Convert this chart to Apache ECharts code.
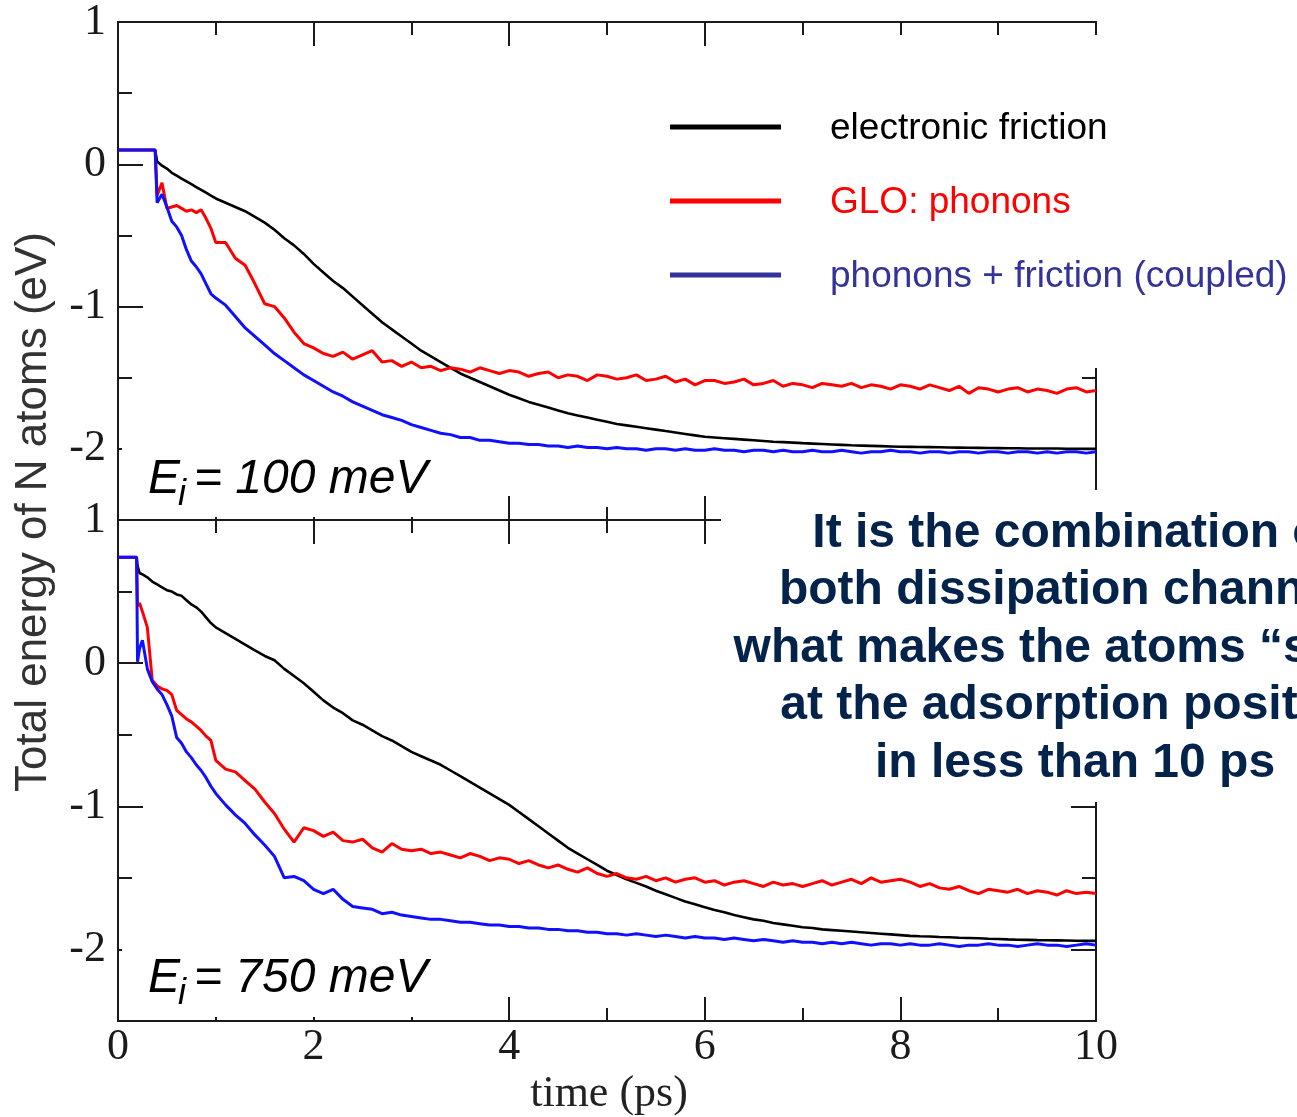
<!DOCTYPE html>
<html><head><meta charset="utf-8">
<script src="https://cdn.jsdelivr.net/npm/echarts@6/dist/echarts.min.js"></script>
<style>html,body{margin:0;padding:0;background:#fff;}#c{width:1297px;height:1117px;}</style>
</head><body><div id="c"></div>
<script>
// ---------- DATA ----------
const seriesNames = ['electronic friction', 'GLO: phonons', 'phonons + friction (coupled)'];
const panelEnergies = ['100 meV', '750 meV'];
const xTicks = [0, 2, 4, 6, 8, 10];
const yTicks = [-2, -1, 0, 1];
const yMinorTicks = [-1.5, -0.5, 0.5];
const noteLines = ['It is the combination of', 'both dissipation channels', 'what makes the atoms \u201cstick\u201d', 'at the adsorption position', 'in less than 10 ps'];

// Top panel (Ei = 100 meV)
const timeTop = [0,0.38,0.40,0.45,0.50,0.55,0.60,0.65,0.70,0.75,0.80,0.85,0.90,0.95,1.0,
1.1,1.2,1.3,1.4,1.5,1.6,1.7,1.8,1.9,2.0,
2.1,2.2,2.3,2.4,2.5,2.6,2.7,2.8,2.9,3.0,
3.1,3.2,3.3,3.4,3.5,3.6,3.7,3.8,3.9,4.0,
4.1,4.2,4.3,4.4,4.5,4.6,4.7,4.8,4.9,5.0,
5.1,5.2,5.3,5.4,5.5,5.6,5.7,5.8,5.9,6.0,
6.1,6.2,6.3,6.4,6.5,6.6,6.7,6.8,6.9,7.0,
7.1,7.2,7.3,7.4,7.5,7.6,7.7,7.8,7.9,8.0,
8.1,8.2,8.3,8.4,8.5,8.6,8.7,8.8,8.9,9.0,
9.1,9.2,9.3,9.4,9.5,9.6,9.7,9.8,9.9,10.0];
const frictionTop = [0.1,0.1,0.02,-0.01,-0.03,-0.06,-0.08,-0.10,-0.12,-0.14,-0.16,-0.18,-0.20,-0.22,-0.24,
-0.27,-0.30,-0.33,-0.37,-0.41,-0.46,-0.52,-0.57,-0.63,-0.70,
-0.76,-0.82,-0.87,-0.93,-0.99,-1.05,-1.11,-1.16,-1.21,-1.26,
-1.31,-1.35,-1.39,-1.43,-1.47,-1.50,-1.53,-1.56,-1.59,-1.62,
-1.645,-1.67,-1.69,-1.71,-1.73,-1.75,-1.765,-1.78,-1.795,-1.81,
-1.825,-1.835,-1.845,-1.855,-1.865,-1.875,-1.885,-1.895,-1.905,-1.915,
-1.92,-1.925,-1.93,-1.935,-1.94,-1.945,-1.95,-1.953,-1.956,-1.96,
-1.963,-1.966,-1.969,-1.972,-1.975,-1.977,-1.979,-1.981,-1.983,-1.985,
-1.986,-1.987,-1.988,-1.989,-1.99,-1.991,-1.992,-1.993,-1.994,-1.995,
-1.996,-1.996,-1.997,-1.997,-1.998,-1.998,-1.999,-1.999,-2.0,-2.0];
const phononsTop = [0.1,0.1,-0.22,-0.13,-0.31,-0.30,-0.29,-0.31,-0.33,-0.32,-0.34,-0.32,-0.38,-0.45,-0.55,
-0.55,-0.66,-0.71,-0.84,-0.98,-1.00,-1.08,-1.18,-1.26,-1.29,
-1.33,-1.35,-1.32,-1.37,-1.34,-1.31,-1.39,-1.38,-1.42,-1.39,
-1.43,-1.42,-1.45,-1.43,-1.44,-1.46,-1.43,-1.45,-1.47,-1.45,
-1.46,-1.49,-1.47,-1.46,-1.50,-1.48,-1.49,-1.52,-1.48,-1.49,
-1.51,-1.50,-1.48,-1.52,-1.51,-1.49,-1.53,-1.51,-1.55,-1.52,
-1.52,-1.54,-1.53,-1.51,-1.55,-1.54,-1.52,-1.56,-1.54,-1.55,
-1.57,-1.54,-1.55,-1.56,-1.54,-1.57,-1.55,-1.56,-1.58,-1.55,
-1.56,-1.58,-1.55,-1.57,-1.59,-1.56,-1.61,-1.57,-1.58,-1.60,
-1.58,-1.57,-1.60,-1.58,-1.59,-1.61,-1.58,-1.57,-1.60,-1.59];
const coupledTop = [0.1,0.1,-0.27,-0.21,-0.30,-0.40,-0.44,-0.50,-0.60,-0.68,-0.72,-0.77,-0.84,-0.91,-0.94,
-0.99,-1.07,-1.15,-1.21,-1.27,-1.33,-1.38,-1.43,-1.48,-1.52,
-1.56,-1.60,-1.63,-1.67,-1.70,-1.73,-1.76,-1.78,-1.80,-1.83,
-1.85,-1.87,-1.89,-1.90,-1.92,-1.92,-1.94,-1.94,-1.95,-1.96,
-1.96,-1.97,-1.97,-1.98,-1.98,-1.99,-1.98,-1.99,-1.99,-2.00,
-1.99,-2.00,-2.00,-2.01,-2.00,-2.00,-2.01,-2.00,-2.01,-2.01,
-2.00,-2.01,-2.01,-2.02,-2.01,-2.01,-2.02,-2.01,-2.02,-2.02,
-2.01,-2.02,-2.02,-2.01,-2.02,-2.03,-2.02,-2.02,-2.01,-2.02,
-2.02,-2.03,-2.02,-2.02,-2.03,-2.02,-2.02,-2.03,-2.02,-2.02,
-2.03,-2.02,-2.02,-2.03,-2.02,-2.03,-2.02,-2.02,-2.03,-2.02];

// Bottom panel (Ei = 750 meV)
const timeBottom = [0,0.19,0.20,0.22,0.25,0.30,0.35,0.40,0.45,0.50,0.55,0.60,0.65,0.70,0.75,0.80,0.85,0.90,0.95,1.0,
1.1,1.2,1.3,1.4,1.5,1.6,1.7,1.8,1.9,2.0,
2.1,2.2,2.3,2.4,2.5,2.6,2.7,2.8,2.9,3.0,
3.1,3.2,3.3,3.4,3.5,3.6,3.7,3.8,3.9,4.0,
4.1,4.2,4.3,4.4,4.5,4.6,4.7,4.8,4.9,5.0,
5.1,5.2,5.3,5.4,5.5,5.6,5.7,5.8,5.9,6.0,
6.1,6.2,6.3,6.4,6.5,6.6,6.7,6.8,6.9,7.0,
7.1,7.2,7.3,7.4,7.5,7.6,7.7,7.8,7.9,8.0,
8.1,8.2,8.3,8.4,8.5,8.6,8.7,8.8,8.9,9.0,
9.1,9.2,9.3,9.4,9.5,9.6,9.7,9.8,9.9,10.0];
const frictionBottom = [0.74,0.74,0.68,0.63,0.62,0.60,0.57,0.55,0.53,0.51,0.50,0.48,0.47,0.44,0.41,0.39,0.36,0.32,0.28,0.25,
0.21,0.17,0.13,0.09,0.05,0.02,-0.04,-0.09,-0.14,-0.20,
-0.26,-0.31,-0.35,-0.40,-0.43,-0.47,-0.51,-0.54,-0.58,-0.62,
-0.65,-0.68,-0.71,-0.75,-0.79,-0.83,-0.87,-0.91,-0.95,-0.99,
-1.04,-1.09,-1.14,-1.19,-1.24,-1.29,-1.33,-1.37,-1.41,-1.45,
-1.48,-1.51,-1.535,-1.56,-1.59,-1.615,-1.64,-1.665,-1.685,-1.705,
-1.725,-1.74,-1.76,-1.775,-1.79,-1.80,-1.815,-1.825,-1.835,-1.845,
-1.85,-1.86,-1.865,-1.87,-1.875,-1.88,-1.885,-1.89,-1.895,-1.90,
-1.905,-1.908,-1.91,-1.913,-1.915,-1.918,-1.92,-1.922,-1.925,-1.927,
-1.93,-1.932,-1.933,-1.935,-1.936,-1.937,-1.938,-1.939,-1.94,-1.94];
const phononsBottom = [0.74,0.74,0.40,0.42,0.36,0.25,-0.12,-0.16,-0.18,-0.19,-0.22,-0.33,-0.36,-0.39,-0.41,-0.44,-0.47,-0.51,-0.54,-0.68,
-0.74,-0.76,-0.82,-0.88,-0.97,-1.05,-1.16,-1.25,-1.15,-1.17,
-1.21,-1.18,-1.24,-1.25,-1.23,-1.29,-1.32,-1.26,-1.30,-1.31,
-1.30,-1.33,-1.32,-1.34,-1.36,-1.33,-1.35,-1.38,-1.36,-1.37,
-1.40,-1.38,-1.41,-1.43,-1.41,-1.44,-1.46,-1.43,-1.47,-1.49,
-1.47,-1.50,-1.51,-1.49,-1.52,-1.50,-1.53,-1.51,-1.50,-1.53,
-1.52,-1.55,-1.53,-1.52,-1.54,-1.56,-1.53,-1.55,-1.54,-1.56,
-1.54,-1.52,-1.55,-1.53,-1.51,-1.54,-1.50,-1.53,-1.52,-1.51,
-1.53,-1.56,-1.54,-1.57,-1.58,-1.56,-1.59,-1.61,-1.58,-1.59,
-1.60,-1.58,-1.61,-1.59,-1.60,-1.62,-1.59,-1.61,-1.60,-1.61];
const coupledBottom = [0.74,0.74,0.01,0.10,0.16,-0.04,-0.13,-0.18,-0.22,-0.29,-0.37,-0.52,-0.56,-0.62,-0.66,-0.71,-0.75,-0.80,-0.86,-0.91,
-0.99,-1.06,-1.12,-1.20,-1.27,-1.35,-1.50,-1.49,-1.52,-1.58,
-1.61,-1.58,-1.65,-1.70,-1.71,-1.72,-1.75,-1.74,-1.76,-1.77,
-1.78,-1.79,-1.79,-1.80,-1.81,-1.81,-1.82,-1.83,-1.83,-1.84,
-1.84,-1.85,-1.85,-1.86,-1.86,-1.87,-1.87,-1.88,-1.88,-1.89,
-1.89,-1.90,-1.89,-1.90,-1.91,-1.90,-1.91,-1.92,-1.91,-1.92,
-1.92,-1.93,-1.92,-1.93,-1.94,-1.93,-1.94,-1.95,-1.94,-1.95,
-1.95,-1.96,-1.95,-1.96,-1.95,-1.96,-1.97,-1.96,-1.96,-1.97,
-1.96,-1.97,-1.97,-1.96,-1.97,-1.98,-1.97,-1.97,-1.96,-1.97,
-1.97,-1.98,-1.97,-1.96,-1.97,-1.97,-1.98,-1.97,-1.96,-1.97];

// ---------- CHART ----------
const FRAME = '#1a1a1a';
const lineColors = ['#000000', '#ff0000', '#1010ff'];
const legendColors = ['#000000', '#ff0000', '#33339a'];

function xAx(grid, pos, labels) {
  return {
    type: 'value', gridIndex: grid, position: pos, min: 0, max: 10, interval: 2,
    axisLine: { show: true, onZero: false, lineStyle: { color: FRAME, width: 2 } },
    axisTick: { show: true, inside: true, length: 24, customValues: xTicks, lineStyle: { color: FRAME, width: 2 } },
    minorTick: { show: true, splitNumber: 2, length: 13, lineStyle: { color: FRAME, width: 2 } },
    axisLabel: { show: labels, customValues: xTicks, margin: 4, fontFamily: 'Liberation Serif', fontSize: 44, color: '#1a1a1a' },
    splitLine: { show: false }, minorSplitLine: { show: false }
  };
}
function yAx(grid, pos, minor, labels) {
  return {
    type: 'value', gridIndex: grid, position: pos, min: -2.5, max: 1,
    axisLine: { show: !minor, onZero: false, lineStyle: { color: FRAME, width: 2 } },
    axisTick: { show: true, inside: true, length: minor ? 14 : 25, customValues: minor ? yMinorTicks : yTicks, lineStyle: { color: FRAME, width: 2 } },
    axisLabel: { show: labels, customValues: yTicks, margin: 12, fontFamily: 'Liberation Serif', fontSize: 44, color: '#1a1a1a' },
    splitLine: { show: false }
  };
}
function pairs(t, v) { return t.map((x, i) => [x, v[i]]); }

const panels = [
  { t: timeTop, vals: [frictionTop, phononsTop, coupledTop] },
  { t: timeBottom, vals: [frictionBottom, phononsBottom, coupledBottom] }
];
const series = [];
panels.forEach((p, pi) => {
  p.vals.forEach((v, si) => {
    series.push({
      type: 'line', name: seriesNames[si], xAxisIndex: pi * 2, yAxisIndex: pi * 4,
      data: pairs(p.t, v), showSymbol: false, symbol: 'none', smooth: false,
      lineStyle: { color: lineColors[si], width: si === 0 ? 2.6 : 3 }, z: 2 + si
    });
  });
});

const graphic = [];
// white cover boxes (legend box, note box and panel-label boxes of the original slide)
graphic.push({ type: 'rect', z: 100, shape: { x: 712, y: 35, width: 600, height: 333 }, style: { fill: '#fff' } });
graphic.push({ type: 'rect', z: 100, shape: { x: 721, y: 490, width: 600, height: 312 }, style: { fill: '#fff' } });
graphic.push({ type: 'rect', z: 100, shape: { x: 122, y: 444, width: 348, height: 73 }, style: { fill: '#fff' } });
graphic.push({ type: 'rect', z: 100, shape: { x: 122, y: 940, width: 348, height: 77 }, style: { fill: '#fff' } });
// legend
const legendY = [127, 201, 275];
seriesNames.forEach((n, i) => {
  graphic.push({ type: 'line', z: 110, shape: { x1: 670, y1: legendY[i], x2: 781, y2: legendY[i] }, style: { stroke: legendColors[i], lineWidth: 5 } });
  graphic.push({ type: 'text', z: 110, x: 830, y: legendY[i] + 2, style: { text: n, font: '37px "Liberation Sans"', fill: legendColors[i], align: 'left', verticalAlign: 'middle', textAlign: 'left', textVerticalAlign: 'middle' } });
});
// panel labels E_i = ...
const labelY = [480, 979];
panelEnergies.forEach((e, i) => {
  const y = labelY[i];
  graphic.push({ type: 'text', z: 110, x: 148, y: y, style: { text: 'E', font: 'italic 48px "Liberation Sans"', fill: '#000', align: 'left', verticalAlign: 'middle', textAlign: 'left', textVerticalAlign: 'middle' } });
  graphic.push({ type: 'text', z: 110, x: 178, y: y + 15, style: { text: 'i', font: 'italic 36px "Liberation Sans"', fill: '#000', align: 'left', verticalAlign: 'middle', textAlign: 'left', textVerticalAlign: 'middle' } });
  graphic.push({ type: 'text', z: 110, x: 194, y: y, style: { text: '= ' + e, font: 'italic 48px "Liberation Sans"', fill: '#000', align: 'left', verticalAlign: 'middle', textAlign: 'left', textVerticalAlign: 'middle' } });
});
// axis titles
graphic.push({ type: 'text', z: 110, x: 34, y: 512, rotation: Math.PI / 2, style: { text: 'Total energy of N atoms (eV)', font: '44px "Liberation Sans"', fill: '#333', align: 'center', verticalAlign: 'middle', textAlign: 'center', textVerticalAlign: 'middle' } });
graphic.push({ type: 'text', z: 110, x: 609, y: 1094, style: { text: 'time (ps)', font: '44px "Liberation Serif"', fill: '#222', align: 'center', verticalAlign: 'middle', textAlign: 'center', textVerticalAlign: 'middle' } });
// note text
graphic.push({ type: 'text', z: 110, x: 1075, y: 505, style: { text: noteLines.join('\n'), font: 'bold 48px "Liberation Sans"', lineHeight: 57.5, fill: '#03234b', align: 'center', verticalAlign: 'top', textAlign: 'center', textVerticalAlign: 'top' } });

const option = {
  animation: false,
  backgroundColor: '#fff',
  grid: [
    { left: 118, top: 20, width: 978, height: 500, containLabel: false },
    { left: 118, top: 520, width: 978, height: 501, containLabel: false }
  ],
  xAxis: [xAx(0, 'bottom', false), xAx(0, 'top', false), xAx(1, 'bottom', true), xAx(1, 'top', false)],
  yAxis: [
    yAx(0, 'left', false, true), yAx(0, 'left', true, false), yAx(0, 'right', false, false), yAx(0, 'right', true, false),
    yAx(1, 'left', false, true), yAx(1, 'left', true, false), yAx(1, 'right', false, false), yAx(1, 'right', true, false)
  ],
  series: series,
  graphic: { elements: graphic }
};
const chart = echarts.init(document.getElementById('c'), null, { renderer: 'canvas', width: 1297, height: 1117 });
chart.setOption(option);
</script></body></html>
